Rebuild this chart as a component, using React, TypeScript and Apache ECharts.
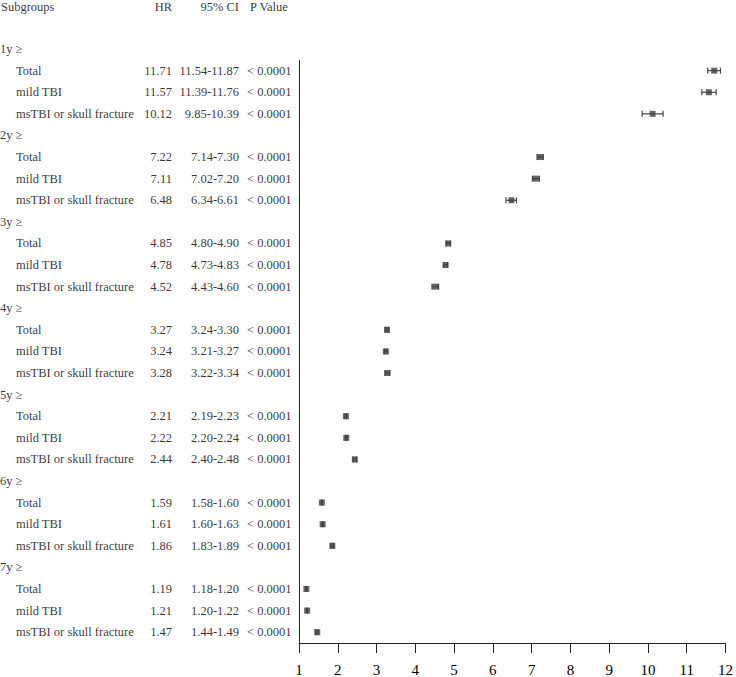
import React, { useEffect, useRef } from "react";
import * as echarts from "echarts";

const groups = ["1y ≥", "2y ≥", "3y ≥", "4y ≥", "5y ≥", "6y ≥", "7y ≥"];
const subgroups = ["Total", "mild TBI", "msTBI or skull fracture"];
const hr = [11.71, 11.57, 10.12, 7.22, 7.11, 6.48, 4.85, 4.78, 4.52, 3.27, 3.24, 3.28, 2.21, 2.22, 2.44, 1.59, 1.61, 1.86, 1.19, 1.21, 1.47];
const lower = [11.54, 11.39, 9.85, 7.14, 7.02, 6.34, 4.8, 4.73, 4.43, 3.24, 3.21, 3.22, 2.19, 2.2, 2.4, 1.58, 1.6, 1.83, 1.18, 1.2, 1.44];
const upper = [11.87, 11.76, 10.39, 7.3, 7.2, 6.61, 4.9, 4.83, 4.6, 3.3, 3.27, 3.34, 2.23, 2.24, 2.48, 1.6, 1.63, 1.89, 1.2, 1.22, 1.49];
const pValues = Array(21).fill("< 0.0001");
const headers = ["Subgroups", "HR", "95% CI", "P Value"];
const xTicks = [1, 2, 3, 4, 5, 6, 7, 8, 9, 10, 11, 12];

const FONT = "'Liberation Serif', 'Times New Roman', serif";

export default function App() {
  const ref = useRef<HTMLDivElement>(null);
  useEffect(() => {
    document.body.style.margin = "0";
    const chart = echarts.init(ref.current!, null, { renderer: "svg" });

    // rows: group g at row 4g, subgroup s at row 4g+1+s
    const rowOf = (i: number) => Math.floor(i / 3) * 4 + 1 + (i % 3);

    const groupText = groups.map((g, k) => ({ value: [0, k * 4], label: { formatter: g } }));
    const subText = hr.map((_, i) => ({ value: [16, rowOf(i)], label: { formatter: subgroups[i % 3] } }));
    const hrText = hr.map((v, i) => ({ value: [172, rowOf(i)], label: { formatter: v.toFixed(2) } }));
    const ciText = hr.map((_, i) => ({ value: [239, rowOf(i)], label: { formatter: `${lower[i].toFixed(2)}-${upper[i].toFixed(2)}` } }));
    const pText = hr.map((_, i) => ({ value: [247, rowOf(i)], label: { formatter: pValues[i] } }));
    const headerRow = -1.93;
    const headerText = [
      { value: [1, headerRow], label: { formatter: headers[0], align: "left" } },
      { value: [172, headerRow], label: { formatter: headers[1], align: "right" } },
      { value: [239, headerRow], label: { formatter: headers[2], align: "right" } },
      { value: [250, headerRow], label: { formatter: headers[3], align: "left" } },
    ];

    const textSeries = (data: any[], align: string) => ({
      type: "scatter",
      xAxisIndex: 1,
      yAxisIndex: 1,
      symbolSize: 0,
      silent: true,
      clip: false,
      data,
      label: {
        show: true,
        position: [0, 0],
        align,
        verticalAlign: "middle",
        fontFamily: FONT,
        fontSize: 12.5,
        color: "#000",
      },
    });

    const points = hr.map((v, i) => [v, rowOf(i), lower[i], upper[i]]);

    chart.setOption({
      animation: false,
      grid: [
        { left: 299, right: 9, top: 60.5, bottom: 34, containLabel: false },
        { left: 0, width: 300, top: 5.8, bottom: 34, containLabel: false },
      ],
      xAxis: [
        {
          type: "value",
          gridIndex: 0,
          min: 1,
          max: 12,
          interval: 1,
          splitLine: { show: false },
          axisLine: { show: true, lineStyle: { color: "#222", width: 1 } },
          axisTick: { show: true, inside: false, length: 10, lineStyle: { color: "#222" } },
          axisLabel: {
            show: true,
            margin: 19,
            fontFamily: FONT,
            fontSize: 15,
            color: "#000",
            formatter: (v: number) => (xTicks.includes(v) ? String(v) : ""),
          },
        },
        { type: "value", gridIndex: 1, min: 0, max: 300, show: false },
      ],
      yAxis: [
        {
          type: "value",
          gridIndex: 0,
          min: 0.53,
          max: 27.5,
          inverse: true,
          splitLine: { show: false },
          axisLine: { show: true, onZero: false, lineStyle: { color: "#222", width: 1 } },
          axisTick: { show: false },
          axisLabel: { show: false },
        },
        { type: "value", gridIndex: 1, min: -2, max: 27.5, inverse: true, show: false },
      ],
      series: [
        {
          type: "custom",
          xAxisIndex: 0,
          yAxisIndex: 0,
          data: points,
          renderItem: (params: any, api: any) => {
            const y = api.coord([api.value(0), api.value(1)])[1];
            const x1 = api.coord([api.value(2), api.value(1)])[0];
            const x2 = api.coord([api.value(3), api.value(1)])[0];
            const st = { stroke: "#444", lineWidth: 1.2 };
            return {
              type: "group",
              children: [
                { type: "line", shape: { x1, y1: y, x2, y2: y }, style: st },
                { type: "line", shape: { x1, y1: y - 3, x2: x1, y2: y + 3 }, style: st },
                { type: "line", shape: { x1: x2, y1: y - 3, x2, y2: y + 3 }, style: st },
              ],
            };
          },
        },
        {
          type: "scatter",
          xAxisIndex: 0,
          yAxisIndex: 0,
          symbol: "rect",
          symbolSize: [6, 6],
          itemStyle: { color: "#404040" },
          data: points.map((p) => [p[0], p[1]]),
        },
        textSeries(groupText, "left"),
        textSeries(subText, "left"),
        textSeries(hrText, "right"),
        textSeries(ciText, "right"),
        textSeries(pText, "left"),
        textSeries(headerText, "left"),
      ],
    });
    return () => chart.dispose();
  }, []);
  return <div ref={ref} style={{ width: 736, height: 677 }} />;
}
